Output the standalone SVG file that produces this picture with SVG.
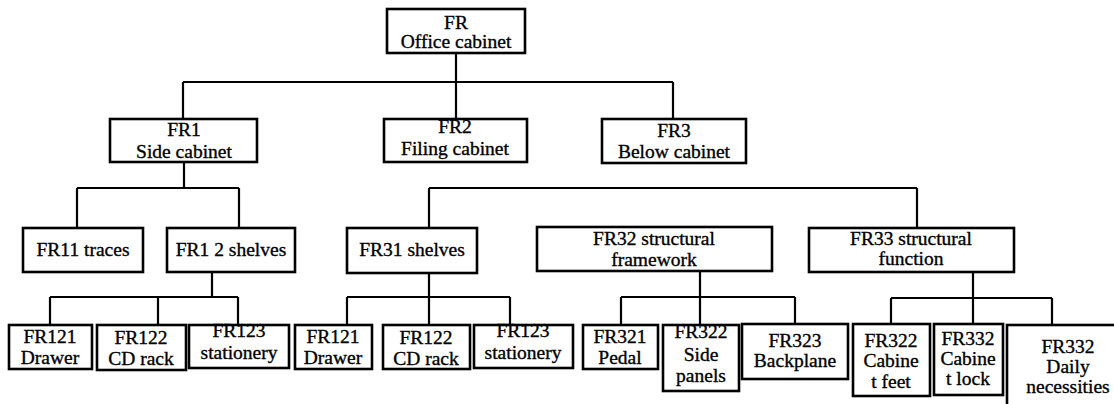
<svg xmlns="http://www.w3.org/2000/svg" width="1114" height="404" viewBox="0 0 1114 404">
<style>
.box{fill:#fff;stroke:#000;stroke-width:2.6}
.ln{fill:none;stroke:#000;stroke-width:2.2}
text{font-family:'Liberation Serif','Times New Roman',serif;font-size:19.5px;fill:#000;text-anchor:middle;stroke:#000;stroke-width:0.35}
</style>
<rect width="1114" height="404" fill="#fff"/>
<g id="connectors">
<path class="ln" d="M456 53V119M183 82H673M183 82V119M673 82V119"/>
<path class="ln" d="M184 162V188M77 188H239M77 188V228M239 188V228"/>
<path class="ln" d="M212 272V297M50 297H238M50 297V325M158 297V325M238 297V325"/>
<path class="ln" d="M429 188H917M429 188V228M917 188V228"/>
<path class="ln" d="M429 273V297M347 297H510M347 297V325M429 297V325M510 297V325"/>
<path class="ln" d="M700 271V297M621 297H795M621 297V325M700 297V325M795 297V324"/>
<path class="ln" d="M973 272V298M891 298H1052M891 298V324M973 298V324M1052 298V325"/>
</g>
<g id="FR"><rect class="box" x="387" y="9" width="138" height="44"/><text x="456" y="29">FR</text><text x="456" y="48">Office cabinet</text></g>
<g id="FR1"><rect class="box" x="110" y="119" width="147" height="43"/><text x="184" y="136">FR1</text><text x="184" y="158">Side cabinet</text></g>
<g id="FR2"><rect class="box" x="384" y="119" width="143" height="43"/><text x="455" y="133">FR2</text><text x="455" y="155">Filing cabinet</text></g>
<g id="FR3"><rect class="box" x="602" y="119" width="144" height="44"/><text x="674" y="137">FR3</text><text x="674" y="158">Below cabinet</text></g>
<g id="FR11"><rect class="box" x="23" y="228" width="120" height="44"/><text x="83" y="256">FR11 traces</text></g>
<g id="FR12"><rect class="box" x="167" y="228" width="128" height="44"/><text x="231" y="256">FR1 2 shelves</text></g>
<g id="FR31"><rect class="box" x="347" y="228" width="130" height="45"/><text x="412" y="256">FR31 shelves</text></g>
<g id="FR32"><rect class="box" x="537" y="227" width="235" height="44"/><text x="654" y="245">FR32 structural</text><text x="654" y="266">framework</text></g>
<g id="FR33"><rect class="box" x="809" y="228" width="205" height="44"/><text x="911" y="245">FR33 structural</text><text x="911" y="265">function</text></g>
<g id="FR121a"><rect class="box" x="9" y="325" width="83" height="44"/><text x="50" y="343">FR121</text><text x="50" y="364">Drawer</text></g>
<g id="FR122a"><rect class="box" x="97" y="325" width="89" height="45"/><text x="141" y="344">FR122</text><text x="141" y="365">CD rack</text></g>
<g id="FR123a"><rect class="box" x="189" y="325" width="100" height="43"/><text x="239" y="337">FR123</text><text x="239" y="359">stationery</text></g>
<g id="FR121b"><rect class="box" x="295" y="325" width="77" height="44"/><text x="333" y="343">FR121</text><text x="333" y="364">Drawer</text></g>
<g id="FR122b"><rect class="box" x="383" y="325" width="87" height="44"/><text x="426" y="344">FR122</text><text x="426" y="365">CD rack</text></g>
<g id="FR123b"><rect class="box" x="474" y="325" width="99" height="43"/><text x="523" y="337">FR123</text><text x="523" y="359">stationery</text></g>
<g id="FR321"><rect class="box" x="583" y="325" width="75" height="44"/><text x="620" y="343">FR321</text><text x="620" y="364">Pedal</text></g>
<g id="FR322"><rect class="box" x="663" y="325" width="76" height="66"/><text x="701" y="338">FR322</text><text x="701" y="361">Side</text><text x="701" y="382">panels</text></g>
<g id="FR323"><rect class="box" x="742" y="324" width="106" height="55"/><text x="795" y="347">FR323</text><text x="795" y="367">Backplane</text></g>
<g id="FR322c"><rect class="box" x="853" y="324" width="77" height="72"/><text x="891" y="347">FR322</text><text x="891" y="367">Cabine</text><text x="891" y="388">t feet</text></g>
<g id="FR332l"><rect class="box" x="934" y="324" width="69" height="71"/><text x="968" y="345">FR332</text><text x="968" y="365">Cabine</text><text x="968" y="385">t lock</text></g>
<g id="FR332d"><rect class="box" x="1007" y="325" width="120" height="100"/><text x="1068" y="353">FR332</text><text x="1068" y="373">Daily</text><text x="1068" y="393">necessities</text></g>
</svg>
